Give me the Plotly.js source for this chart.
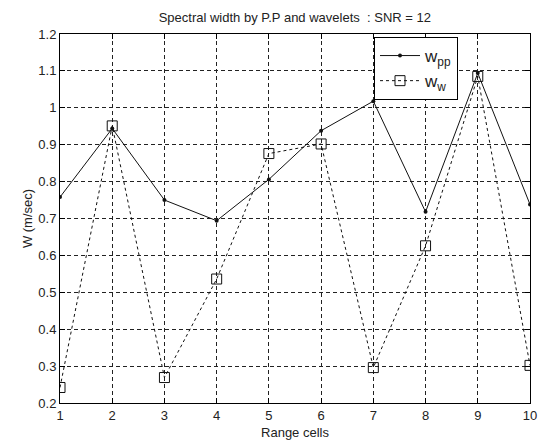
<!DOCTYPE html>
<html>
<head>
<meta charset="utf-8">
<script src="https://cdn.plot.ly/plotly-3.0.1.min.js"></script>
<style>html,body{margin:0;padding:0;background:#fff;}#chart{width:538px;height:447px;}</style>
</head>
<body>
<div id="chart"></div>
<script>
const rangeCells = [1, 2, 3, 4, 5, 6, 7, 8, 9, 10];
const wPP = [0.758, 0.944, 0.750, 0.694, 0.806, 0.938, 1.018, 0.718, 1.094, 0.738];
const wW  = [0.242, 0.951, 0.269, 0.536, 0.876, 0.902, 0.296, 0.626, 1.085, 0.302];
const xTicks = [1, 2, 3, 4, 5, 6, 7, 8, 9, 10];
const yTicks = [0.2, 0.3, 0.4, 0.5, 0.6, 0.7, 0.8, 0.9, 1, 1.1, 1.2];
const yTickText = ['0.2', '0.3', '0.4', '0.5', '0.6', '0.7', '0.8', '0.9', '1', '1.1', '1.2'];

const font = {family: 'Liberation Sans, Arial, sans-serif', size: 13, color: '#222'};

const traces = [
  {
    x: rangeCells, y: wPP, name: 'w<sub>pp</sub>', type: 'scatter', mode: 'lines+markers',
    line: {color: '#111', width: 1},
    marker: {symbol: 'circle', size: 4, color: '#111'}
  },
  {
    x: rangeCells, y: wW, name: 'w<sub>w</sub>', type: 'scatter', mode: 'lines+markers',
    line: {color: '#111', width: 1, dash: '3px,3px'},
    marker: {symbol: 'square-open', size: 10, color: '#111', line: {width: 1}}
  }
];

const layout = {
  width: 538, height: 447,
  margin: {l: 60, r: 8, t: 34, b: 44},
  paper_bgcolor: '#fff', plot_bgcolor: '#fff',
  font: font,
  showlegend: true,
  title: {
    text: 'Spectral width by P.P and wavelets  : SNR = 12',
    font: {family: font.family, size: 13, color: '#222'},
    x: 0.548, xanchor: 'center', xref: 'container',
    y: 1 - 17/447, yanchor: 'middle', yref: 'container'
  },
  xaxis: {
    range: [1, 10], tickvals: xTicks, ticktext: xTicks.map(String),
    showline: true, linecolor: '#000', linewidth: 1, mirror: 'ticks',
    ticks: 'inside', ticklen: 5, tickcolor: '#000',
    showgrid: true, gridcolor: '#222', griddash: '4px,3px', gridwidth: 1,
    zeroline: false, tickfont: font,
    title: {text: 'Range cells', font: font, standoff: 6}
  },
  yaxis: {
    range: [0.2, 1.2], tickvals: yTicks, ticktext: yTickText,
    showline: true, linecolor: '#000', linewidth: 1, mirror: 'ticks',
    ticks: 'inside', ticklen: 5, tickcolor: '#000',
    showgrid: true, gridcolor: '#222', griddash: '4px,3px', gridwidth: 1,
    zeroline: false, tickfont: font,
    title: {text: 'W (m/sec)', font: font, standoff: 2}
  },
  legend: {
    x: (374 - 60) / 470, xanchor: 'left',
    y: 1 - (37 - 34) / 369, yanchor: 'top',
    bgcolor: '#fff', bordercolor: '#000', borderwidth: 1,
    font: {family: font.family, size: 17, color: '#222'},
    itemwidth: 40,
    tracegroupgap: 0
  }
};

Plotly.newPlot('chart', traces, layout, {displayModeBar: false, staticPlot: true});
</script>
</body>
</html>
